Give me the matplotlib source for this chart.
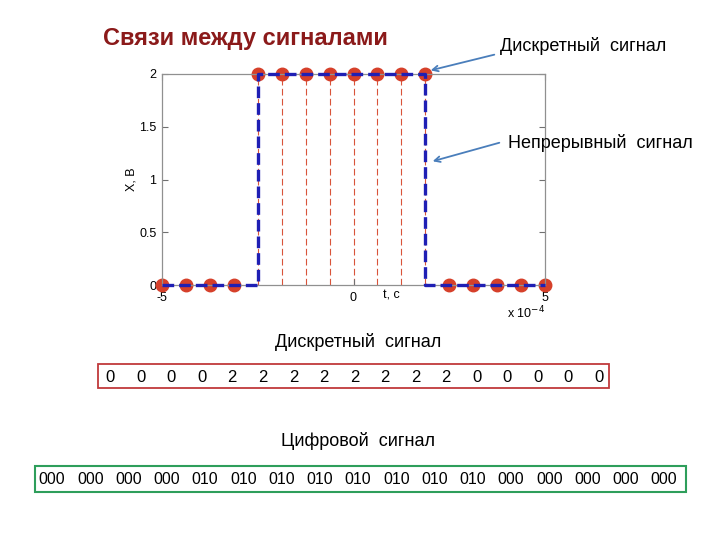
import matplotlib.pyplot as plt
import numpy as np
from matplotlib.patches import Rectangle

plt.rcParams['font.family'] = ['Liberation Sans', 'DejaVu Sans']

# sample times (x 1e-4 s) and sample values
t_samples = np.linspace(-5, 5, 17)
x_samples = [0, 0, 0, 0, 2, 2, 2, 2, 2, 2, 2, 2, 0, 0, 0, 0, 0]

# continuous rectangular pulse
t_cont = [-5, -2.5, -2.5, 1.875, 1.875, 5]
x_cont = [0, 0, 2, 2, 0, 0]

digital_codes = ['000', '000', '000', '000', '010', '010', '010', '010',
                 '010', '010', '010', '010', '000', '000', '000', '000', '000']

title_text = 'Связи между сигналами'
label_discrete = 'Дискретный  сигнал'
label_cont = 'Непрерывный  сигнал'
label_digital = 'Цифровой  сигнал'

fig = plt.figure(figsize=(7.2, 5.4), dpi=100)
W, H = 720, 540


def fx(px):
    return px / W


def fy(py):
    return 1 - py / H


ax = fig.add_axes([fx(162), fy(285), fx(545) - fx(162), fy(74) - fy(285)])

# thin red stems
for t, v in zip(t_samples, x_samples):
    if v > 0:
        ax.plot([t, t], [0, v], color='#D9543A', lw=0.8, dashes=(6, 3), zorder=1)

ax.plot(t_samples, x_samples, 'o', color='#D6402A', ms=9, zorder=2, clip_on=False)
ax.plot(t_cont, x_cont, color='#1F1FB4', lw=2.4, dashes=(3.5, 1.5), zorder=3,
        clip_on=False)

ax.set_xlim(-5, 5)
ax.set_ylim(0, 2)
ax.set_xticks([-5, 0, 5])
ax.set_xticklabels(['-5', '0', '5'])
ax.set_yticks([0, 0.5, 1, 1.5, 2])
ax.set_yticklabels(['0', '0.5', '1', '1.5', '2'])
ax.tick_params(direction='in', length=4, labelsize=9, color='#707070',
               top=True, right=True)
ax.tick_params(axis='x', pad=5)
ax.tick_params(axis='y', pad=4)
for s in ax.spines.values():
    s.set_color('#909090')
    s.set_linewidth(0.9)
ax.set_ylabel('X, B', fontsize=9, labelpad=1)
ax.text(1.0, -0.1, 't, c', fontsize=9, ha='center', va='center')
ax.text(5, -0.27, r'x 10$^{-4}$', fontsize=9, ha='right', va='center')

# title
fig.text(fx(103), fy(38), title_text, fontsize=17, fontweight='bold',
         color='#8B1A1A', ha='left', va='center')

# annotations with arrows
arrow_kw = dict(arrowstyle='->', color='#4A7EBB', lw=1.3)
fig.text(fx(500), fy(46), label_discrete, fontsize=13, ha='left', va='center')
ax.annotate('', xy=(fx(428), fy(71)), xycoords='figure fraction',
            xytext=(fx(497), fy(54)), textcoords='figure fraction',
            arrowprops=arrow_kw)
fig.text(fx(508), fy(143), label_cont, fontsize=13, ha='left', va='center')
ax.annotate('', xy=(fx(430), fy(162)), xycoords='figure fraction',
            xytext=(fx(502), fy(142)), textcoords='figure fraction',
            arrowprops=arrow_kw)

# discrete sequence box
fig.text(fx(358), fy(342), label_discrete, fontsize=13, ha='center', va='center')
fig.patches.append(Rectangle((fx(98), fy(388)), fx(609) - fx(98), fy(364) - fy(388),
                             transform=fig.transFigure, fill=False,
                             edgecolor='#C0393B', lw=1.3))
n = len(x_samples)
for i, v in enumerate(x_samples):
    px = 110 + i * (599 - 110) / (n - 1)
    fig.text(fx(px), fy(377), str(v), fontsize=12, ha='center', va='center')

# digital code box
fig.text(fx(358), fy(441), label_digital, fontsize=13, ha='center', va='center')
fig.patches.append(Rectangle((fx(35), fy(492)), fx(686) - fx(35), fy(466) - fy(492),
                             transform=fig.transFigure, fill=False,
                             edgecolor='#2E9E5B', lw=1.5))
for i, code in enumerate(digital_codes):
    px = 52 + i * (664 - 52) / (len(digital_codes) - 1)
    fig.text(fx(px), fy(479), code, fontsize=11.5, ha='center', va='center')

fig.savefig('out.png', dpi=100)
